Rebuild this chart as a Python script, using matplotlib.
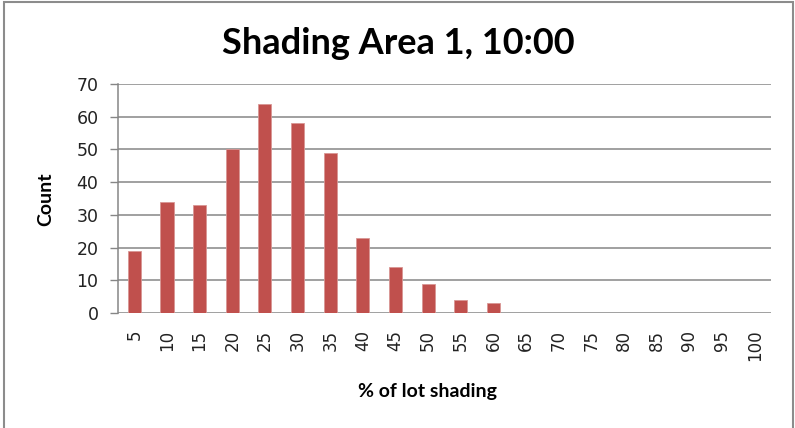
import matplotlib
matplotlib.use("Agg")
import matplotlib.pyplot as plt
from matplotlib.patches import Rectangle

categories = ["5", "10", "15", "20", "25", "30", "35", "40", "45", "50",
              "55", "60", "65", "70", "75", "80", "85", "90", "95", "100"]
counts = [19, 34, 33, 50, 64, 58, 49, 23, 14, 9, 4, 3,
          0, 0, 0, 0, 0, 0, 0, 0]
y_ticks = [0, 10, 20, 30, 40, 50, 60, 70]

W, H = 795, 428
fig = plt.figure(figsize=(W / 100, H / 100), dpi=100)
fig.patch.set_facecolor("white")

# outer chart frame
fig.add_artist(Rectangle((3.5 / W, -0.05), (793 - 3.5) / W, (H - 1.5) / H + 0.05,
                         transform=fig.transFigure, fill=False,
                         edgecolor="#8c8c8c", linewidth=1.5))

left, right, top, bottom = 118, 771, 84, 313
ax = fig.add_axes([left / W, 1 - bottom / H, (right - left) / W, (bottom - top) / H])

x = list(range(len(categories)))
ax.bar(x, counts, width=0.4, color="#C0504D", edgecolor="#d99694",
       linewidth=0.6, zorder=3)

ax.set_xlim(-0.5, len(categories) - 0.5)
ax.set_ylim(0, 70)
ax.set_yticks(y_ticks)
ax.set_yticklabels([str(v) for v in y_ticks], fontsize=12.5,
                   family="DejaVu Sans", color="#222222")
ax.set_xticks(x)
ax.set_xticklabels(categories, rotation=90, fontsize=12,
                   family="DejaVu Sans", color="#222222")
ax.tick_params(axis="x", length=0, pad=12)
ax.tick_params(axis="y", length=6, width=1, color="#868686", pad=8)

ax.grid(axis="y", color="#868686", linewidth=1.1, zorder=0)
ax.set_axisbelow(True)
for s in ["top", "right", "bottom"]:
    ax.spines[s].set_visible(False)
ax.spines["left"].set_color("#868686")
ax.spines["left"].set_linewidth(1.1)

fig.text(398 / W, 1 - 44 / H, "Shading Area 1, 10:00", ha="center", va="center",
         fontsize=26, family="Lato", fontweight="bold", color="black")
fig.text(46 / W, 1 - 199 / H, "Count", ha="center", va="center", rotation=90,
         fontsize=14, family="Lato", fontweight="bold", color="black")
fig.text(428 / W, 1 - 392 / H, "% of lot shading", ha="center", va="center",
         fontsize=14, family="Lato", fontweight="bold", color="black")

fig.savefig("out.png", dpi=100)
